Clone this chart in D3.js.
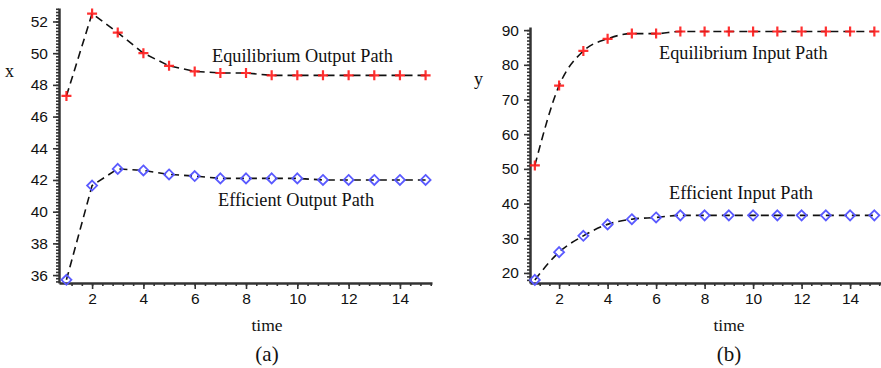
<!DOCTYPE html>
<html>
<head>
<meta charset="utf-8">
<script src="https://cdn.jsdelivr.net/npm/d3@7"></script>
<style>
  body { margin: 0; background: #fff; }
  .tick text { font-family: "Liberation Sans", Arial, sans-serif; font-size: 15.5px; fill: #111; }
  .domain { stroke: #333; stroke-width: 2.5; }
  .tick line { stroke: #333; stroke-width: 1.6; }
  .lbl { font-family: "Liberation Serif", "Times New Roman", serif; fill: #111; }
</style>
</head>
<body>
<script>
var width = 881,
    height = 368;

// data
var time = [1, 2, 3, 4, 5, 6, 7, 8, 9, 10, 11, 12, 13, 14, 15];
var eqOutput = [47.3, 52.5, 51.3, 50.0, 49.2, 48.85, 48.75, 48.75, 48.6, 48.6, 48.6, 48.6, 48.6, 48.6, 48.6];
var effOutput = [35.7, 41.65, 42.7, 42.6, 42.35, 42.25, 42.1, 42.1, 42.1, 42.1, 42.0, 42.0, 42.0, 42.0, 42.0];
var eqInput = [51, 74, 84, 87.5, 89, 89, 89.6, 89.6, 89.6, 89.6, 89.6, 89.6, 89.6, 89.6, 89.6];
var effInput = [18, 26, 30.7, 34, 35.5, 36, 36.6, 36.6, 36.6, 36.6, 36.6, 36.6, 36.6, 36.6, 36.6];
var xTicks = [2, 4, 6, 8, 10, 12, 14];
var yTicksA = [36, 38, 40, 42, 44, 46, 48, 50, 52];
var yTicksB = [20, 30, 40, 50, 60, 70, 80, 90];

var svg = d3.select("body").append("svg")
    .attr("width", width)
    .attr("height", height);

function panel(opt) {
  var x = d3.scaleLinear().domain(opt.xDomain).range(opt.xRange);
  var y = d3.scaleLinear().domain(opt.yDomain).range([283, opt.yTop]);
  var g = svg.append("g");

  // minor ticks
  g.append("g")
    .attr("transform", "translate(0,283)")
    .call(d3.axisBottom(x).tickValues(d3.range(1.2, opt.xDomain[1], 0.4)).tickSize(3).tickFormat(""))
    .select(".domain").remove();
  g.append("g")
    .attr("transform", "translate(" + opt.xRange[0] + ",0)")
    .call(d3.axisLeft(y).tickValues(d3.range(Math.ceil(opt.yDomain[0] / opt.minor) * opt.minor, opt.yDomain[1], opt.minor)).tickSize(3).tickFormat(""))
    .select(".domain").remove();

  // major axes
  g.append("g")
    .attr("transform", "translate(0,283)")
    .call(d3.axisBottom(x).tickValues(xTicks).tickSize(6).tickSizeOuter(0).tickPadding(4));
  g.append("g")
    .attr("transform", "translate(" + opt.xRange[0] + ",0)")
    .call(d3.axisLeft(y).tickValues(opt.yTicks).tickSize(6).tickSizeOuter(0).tickPadding(5));

  var line = d3.line()
    .x(function(d, i) { return x(time[i]); })
    .y(function(d) { return y(d); })
    .curve(opt.curve);

  [opt.eq, opt.eff].forEach(function(s) {
    g.append("path")
      .datum(s)
      .attr("fill", "none")
      .attr("stroke", "#111")
      .attr("stroke-width", 1.6)
      .attr("stroke-dasharray", "8,5")
      .attr("d", line);
  });

  // red crosses
  g.selectAll(".cross")
    .data(opt.eq)
    .enter().append("path")
    .attr("transform", function(d, i) { return "translate(" + x(time[i]) + "," + y(d) + ")"; })
    .attr("d", "M-5,0H5M0,-5V5")
    .attr("stroke", "#ff1a1a")
    .attr("stroke-width", 2.2)
    .attr("opacity", 0.9);

  // blue diamonds
  g.selectAll(".diamond")
    .data(opt.eff)
    .enter().append("path")
    .attr("transform", function(d, i) { return "translate(" + x(time[i]) + "," + y(d) + ")"; })
    .attr("d", "M0,-5L5,0L0,5L-5,0Z")
    .attr("fill", "none")
    .attr("stroke", "#5a5aff")
    .attr("stroke-width", 1.8);

  // labels
  g.append("text").attr("class", "lbl").attr("x", opt.yLab[0]).attr("y", opt.yLab[1])
    .attr("font-size", 18).text(opt.yName);
  g.append("text").attr("class", "lbl").attr("x", opt.mid).attr("y", 331)
    .attr("text-anchor", "middle").attr("font-size", 17.5).text("time");
  g.append("text").attr("class", "lbl").attr("x", opt.mid).attr("y", 361)
    .attr("text-anchor", "middle").attr("font-size", 21).text(opt.tag);
  g.append("text").attr("class", "lbl").attr("x", opt.eqLab[0]).attr("y", opt.eqLab[1])
    .attr("font-size", 18.3).text(opt.eqName);
  g.append("text").attr("class", "lbl").attr("x", opt.effLab[0]).attr("y", opt.effLab[1])
    .attr("font-size", 18.3).text(opt.effName);
}

panel({
  xDomain: [0.71, 15.25], xRange: [59, 432],
  yDomain: [35.5, 52.85], yTop: 8, yTicks: yTicksA, minor: 0.2,
  eq: eqOutput, eff: effOutput, curve: d3.curveLinear,
  yName: "x", yLab: [5, 77], mid: 267, tag: "(a)",
  eqName: "Equilibrium Output Path", eqLab: [212, 62],
  effName: "Efficient Output Path", effLab: [218, 206]
});

panel({
  xDomain: [0.8, 15.8], xRange: [530, 893.75],
  yDomain: [17.1, 90.9], yTop: 27, yTicks: yTicksB, minor: 1,
  eq: eqInput, eff: effInput, curve: d3.curveMonotoneX,
  yName: "y", yLab: [474, 85], mid: 729, tag: "(b)",
  eqName: "Equilibrium Input Path", eqLab: [659, 59],
  effName: "Efficient Input Path", effLab: [669, 199]
});
</script>
</body>
</html>
